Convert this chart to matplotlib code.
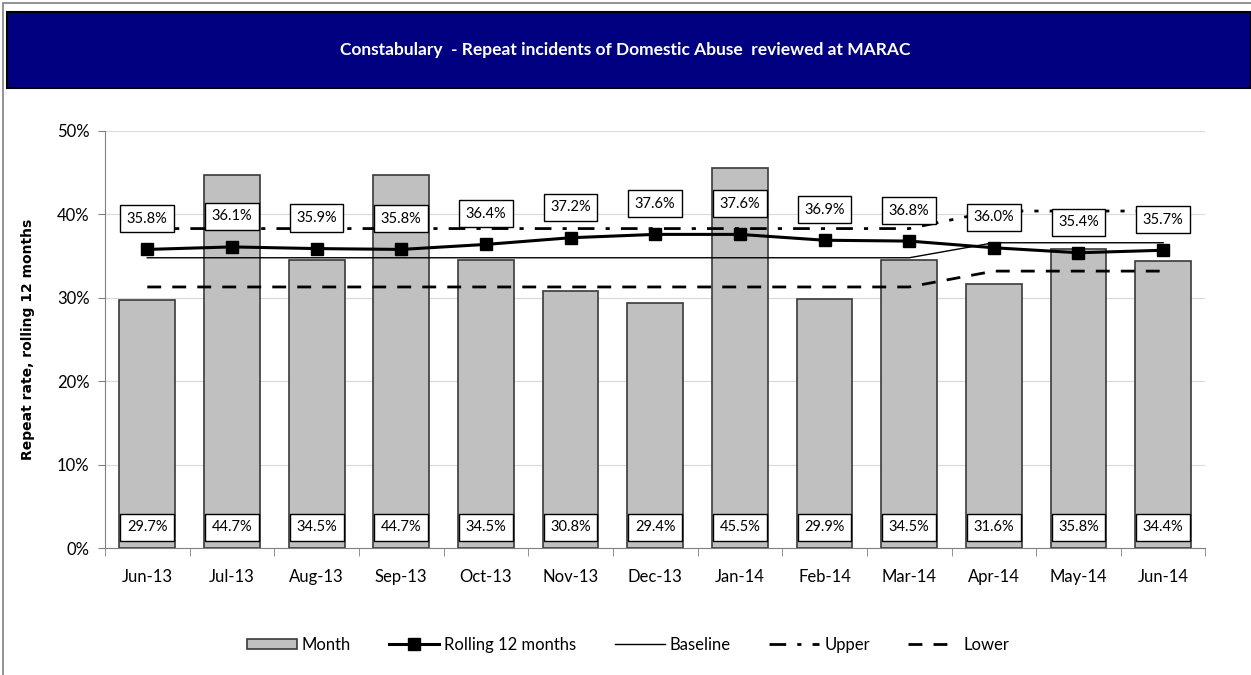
import numpy as np
import matplotlib.pyplot as plt
from matplotlib.patches import Rectangle

months = ["Jun-13", "Jul-13", "Aug-13", "Sep-13", "Oct-13", "Nov-13", "Dec-13",
          "Jan-14", "Feb-14", "Mar-14", "Apr-14", "May-14", "Jun-14"]
month_rate = [29.7, 44.7, 34.5, 44.7, 34.5, 30.8, 29.4, 45.5, 29.9, 34.5, 31.6, 35.8, 34.4]
rolling = [35.8, 36.1, 35.9, 35.8, 36.4, 37.2, 37.6, 37.6, 36.9, 36.8, 36.0, 35.4, 35.7]
baseline = [34.8] * 10 + [36.6] * 3
upper = [38.3] * 10 + [40.4] * 3
lower = [31.3] * 10 + [33.2] * 3

plt.rcParams["font.family"] = ["Lato", "DejaVu Sans"]

fig = plt.figure(figsize=(12.51, 6.75), dpi=100)
ax = fig.add_axes([0.0839, 0.188, 0.8797, 0.618])

x = np.arange(len(months))
bars = ax.bar(x, month_rate, width=0.66, color="#c0c0c0", edgecolor="#3a3a3a",
              linewidth=1.2, label="Month", zorder=2)
l1, = ax.plot(x, rolling, color="black", linewidth=2.2, marker="s", markersize=8,
              label="Rolling 12 months", zorder=5)
l2, = ax.plot(x, baseline, color="black", linewidth=1.0, label="Baseline", zorder=4)
l3, = ax.plot(x, upper, color="black", linewidth=2.0, dashes=(6, 4, 1.5, 4), label="Upper", zorder=4)
l4, = ax.plot(x, lower, color="black", linewidth=2.0, dashes=(5, 4), label="Lower", zorder=4)

box = dict(boxstyle="square,pad=0.45", facecolor="white", edgecolor="black", linewidth=1)
for xi, v in zip(x, rolling):
    ax.annotate(f"{v:.1f}%", (xi, v), xytext=(0, 22), textcoords="offset points",
                ha="center", va="center", fontsize=10.5, bbox=box, zorder=6)
for xi, v in zip(x, month_rate):
    ax.text(xi, 2.5, f"{v:.1f}%", ha="center", va="center", fontsize=10.5,
            bbox=box, zorder=6)

ax.set_xlim(-0.5, len(months) - 0.5)
ax.set_ylim(0, 50)
ax.set_yticks(np.arange(0, 51, 10))
ax.set_yticklabels([f"{t}%" for t in range(0, 51, 10)], fontsize=12)
ax.set_xticks(x)
ax.set_xticklabels(months, fontsize=12)
ax.set_xticks(np.arange(-0.5, len(months), 1), minor=True)
ax.tick_params(axis="x", which="major", length=0, pad=15)
ax.tick_params(axis="x", which="minor", length=6, color="#808080")
ax.tick_params(axis="y", length=5, color="#808080", pad=6)
ax.grid(axis="y", color="#d9d9d9", linewidth=0.8, zorder=0)
ax.set_axisbelow(True)
for s in ["top", "right"]:
    ax.spines[s].set_visible(False)
ax.spines["left"].set_color("#808080")
ax.spines["bottom"].set_color("#808080")

ax.set_ylabel("Repeat rate, rolling 12 months", fontsize=10, fontweight="bold",
              family="DejaVu Sans", labelpad=16)

# title banner
fig.patches.append(Rectangle((7 / 1251, 1 - 88 / 675), 1 - 7 / 1251, 76 / 675,
                             transform=fig.transFigure, facecolor="#000080",
                             edgecolor="black", linewidth=1.5, zorder=0))
fig.text(0.5, 1 - 50 / 675, "Constabulary  - Repeat incidents of Domestic Abuse  reviewed at MARAC",
         ha="center", va="center", color="white", fontsize=12.5, fontweight="bold")
fig.patches.append(Rectangle((3 / 1251, -0.01), 1.1, 1 - 3 / 675 + 0.01,
                             transform=fig.transFigure, facecolor="none",
                             edgecolor="#808080", linewidth=1.2))

fig.legend([bars, l1, l2, l3, l4], ["Month", "Rolling 12 months", "Baseline", "Upper", "Lower"],
           loc="center", bbox_to_anchor=(0.502, 1 - 645 / 675), ncol=5, frameon=False,
           fontsize=12, handlelength=3.0, handleheight=0.6, columnspacing=2.3,
           handletextpad=0.3)

plt.savefig("out.png", dpi=100)
